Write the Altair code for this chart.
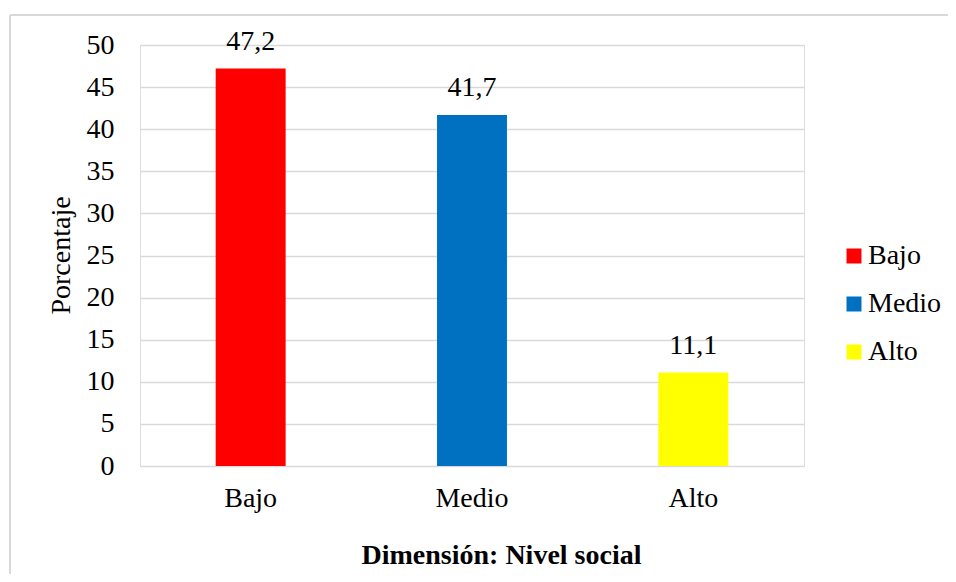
import altair as alt
import pandas as pd

categories = ["Bajo", "Medio", "Alto"]
values = [47.2, 41.7, 11.1]
colors = ["#FF0000", "#0070C0", "#FFFF00"]
y_ticks = [0, 5, 10, 15, 20, 25, 30, 35, 40, 45, 50]

df = pd.DataFrame({
    "cat": categories,
    "val": values,
    "lbl": [f"{v:.1f}".replace(".", ",") for v in values],
})

FONT = "Liberation Serif"
FS = 28

x_enc = alt.X(
    "cat:N", sort=categories,
    scale=alt.Scale(paddingInner=0.684, paddingOuter=0.342),
    axis=alt.Axis(
        title="Dimensión: Nivel social", labelAngle=0, ticks=False, domain=False,
        labelPadding=18, labelFontSize=FS, labelFont=FONT, labelColor="#000000",
        titleFont=FONT, titleFontSize=FS, titleFontWeight="bold", titleColor="#000000",
        titleX=361, titleY=89, titleBaseline="middle", titleAlign="center",
    ),
)
y_enc = alt.Y(
    "val:Q",
    scale=alt.Scale(domain=[0, 50], nice=False),
    axis=alt.Axis(
        values=y_ticks, title="Porcentaje", ticks=False, domain=False,
        labelPadding=26, labelFontSize=FS, labelFont=FONT, labelColor="#000000",
        gridColor="#d9d9d9", gridWidth=1.3,
        titleFont=FONT, titleFontSize=FS, titleFontWeight="normal", titleColor="#000000",
        titleX=-79, titleY=210, titleAngle=270, titleBaseline="middle", titleAlign="center",
    ),
)

bars = alt.Chart(df).mark_bar().encode(
    x=x_enc, y=y_enc,
    color=alt.Color(
        "cat:N", sort=categories,
        scale=alt.Scale(domain=categories, range=colors),
        legend=alt.Legend(
            title=None, orient="none", legendX=700, legendY=197,
            symbolType="square", symbolSize=225, symbolStrokeWidth=0,
            labelFont=FONT, labelFontSize=FS, labelColor="#000000",
            labelOffset=0, rowPadding=20, padding=0,
        ),
    ),
)

labels = alt.Chart(df).mark_text(
    font=FONT, fontSize=FS, color="#000000", baseline="alphabetic", dy=-18.6
).encode(
    x=alt.X("cat:N", sort=categories),
    y=alt.Y("val:Q"),
    text="lbl:N",
)

frame_df = pd.DataFrame({"a": [0]})
left_line = alt.Chart(frame_df).mark_rule(color="#d9d9d9", strokeWidth=2).encode(
    x=alt.value(-130), y=alt.value(-30), y2=alt.value(700)
)
top_line = alt.Chart(frame_df).mark_rule(color="#d9d9d9", strokeWidth=2).encode(
    x=alt.value(-130), x2=alt.value(1000), y=alt.value(-30)
)

chart = alt.layer(left_line, top_line, bars, labels).properties(
    width=664, height=421,
    autosize=alt.AutoSizeParams(type="none"),
    padding={"left": 132, "top": 37, "right": 144, "bottom": 108},
).configure_view(stroke=None).configure(background="#ffffff")

chart.save("out.html", embed_options={"renderer": "svg", "actions": False})
